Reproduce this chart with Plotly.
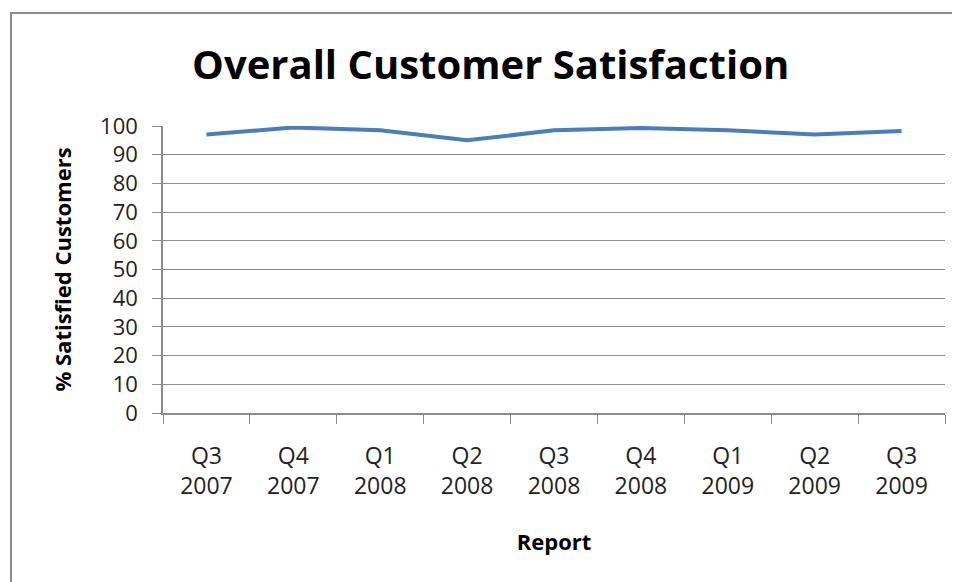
import plotly.graph_objects as go

quarters = ["Q3<br>2007", "Q4<br>2007", "Q1<br>2008", "Q2<br>2008", "Q3<br>2008",
            "Q4<br>2008", "Q1<br>2009", "Q2<br>2009", "Q3<br>2009"]
satisfied = [97, 99.5, 98.5, 95, 98.5, 99.3, 98.5, 97, 98.3]
y_ticks = list(range(0, 101, 10))

FONT = "Open Sans, Liberation Sans, sans-serif"
GREY = "#8c8c8c"

fig = go.Figure()
fig.add_trace(go.Scatter(
    x=quarters, y=satisfied, mode="lines",
    line=dict(color="#4a7ebb", width=4),
    hoverinfo="skip", showlegend=False,
))

# outer chart border (page body adds an 8px offset)
fig.add_shape(type="rect", xref="paper", yref="paper",
              x0=-152 / 782, x1=2, y0=-1, y1=400 / 287,
              line=dict(color=GREY, width=2), layer="below")

fig.update_layout(
    width=952, height=574,
    paper_bgcolor="white", plot_bgcolor="white",
    margin=dict(l=155, r=15, t=118, b=169),
    font=dict(family=FONT, size=22, color="#222"),
    title=dict(text="<b>Overall Customer Satisfaction</b>", x=0.507, xanchor="center",
               y=1 - 57 / 574, yanchor="middle", font=dict(size=40, color="#000")),
    xaxis=dict(
        type="category", tickson="boundaries", ticks="outside", ticklen=9,
        tickcolor=GREY, showline=True, linecolor=GREY, linewidth=1.5,
        showgrid=False, range=[-0.5, len(quarters) - 0.5],
        tickfont=dict(size=23, color="#222"), ticklabelstandoff=22,
        title=dict(text="<b>Report</b>", font=dict(size=22, color="#000"), standoff=34),
    ),
    yaxis=dict(
        range=[0, 100], tickvals=y_ticks, ticks="outside", ticklen=9,
        tickcolor=GREY, showline=True, linecolor=GREY, linewidth=1.5,
        showgrid=True, gridcolor=GREY, gridwidth=1.2, zeroline=False,
        tickfont=dict(size=22, color="#222"), ticklabelstandoff=10,
        title=dict(text="<b>% Satisfied Customers</b>", font=dict(size=22, color="#000"), standoff=22),
    ),
)

fig.write_html("out.html")
